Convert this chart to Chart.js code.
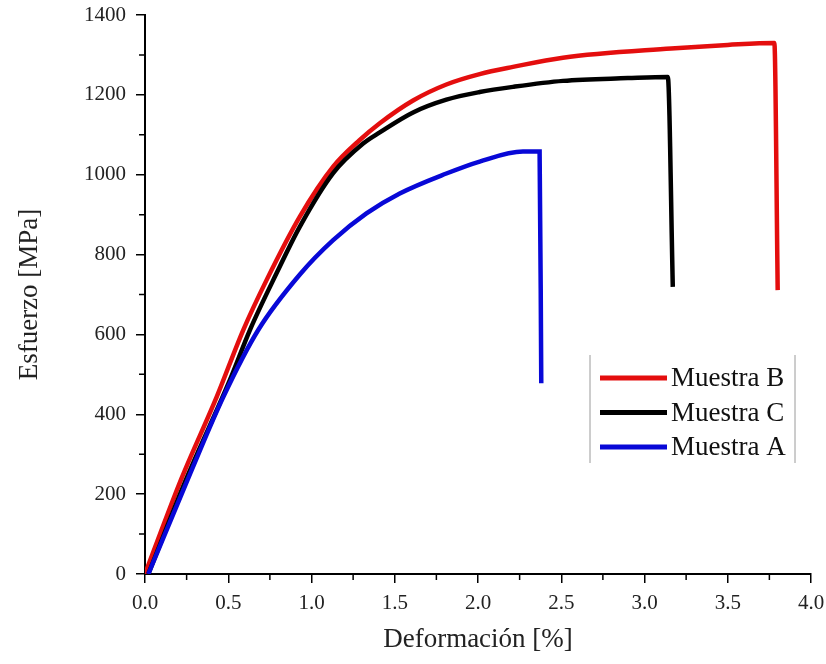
<!DOCTYPE html>
<html>
<head>
<meta charset="utf-8">
<script src="https://cdn.jsdelivr.net/npm/chart.js@4.4.1/dist/chart.umd.min.js"></script>
<style>
  body { margin: 0; background: #fff; }
  #wrap { width: 826px; height: 664px; }
</style>
</head>
<body>
<div id="wrap"><canvas id="chart" width="826" height="664"></canvas></div>
<script>
// strain [%] / stress [MPa]
var strainB = [0, 0.22, 0.43, 0.59, 0.73, 0.93, 1.13, 1.29, 1.41, 1.61, 1.81, 2.01, 2.21, 2.51, 3.16, 3.5, 3.78, 3.80];
var stressB = [0, 240, 443, 611, 736, 895, 1020, 1087, 1129, 1186, 1226, 1252, 1270, 1293, 1316, 1325, 1330, 711];

var strainC = [0.02, 0.25, 0.51, 0.63, 0.79, 0.93, 1.13, 1.31, 1.41, 1.61, 1.81, 2.01, 2.21, 2.51, 2.9, 3.14, 3.17];
var stressC = [0, 240, 486, 611, 753, 870, 1004, 1078, 1106, 1156, 1188, 1207, 1220, 1235, 1242, 1245, 719];

var strainA = [0.02, 0.27, 0.47, 0.68, 0.93, 1.13, 1.33, 1.53, 1.81, 2.01, 2.27, 2.37, 2.38];
var stressA = [0, 250, 443, 611, 750, 836, 903, 953, 1003, 1033, 1058, 1058, 478];

var seriesNames = ['Muestra B', 'Muestra C', 'Muestra A'];
var seriesColors = ['rgb(228,14,14)', '#000000', 'rgb(8,8,215)'];

var xTicks = [0, 0.5, 1.0, 1.5, 2.0, 2.5, 3.0, 3.5, 4.0];
var yTicks = [0, 200, 400, 600, 800, 1000, 1200, 1400];

function toPoints(xs, ys) {
    return xs.map(function (x, i) { return { x: x, y: ys[i] }; });
}

var serifFont = "'Liberation Serif', 'Times New Roman', serif";

// minor ticks halfway between the labelled ones
var minorTicks = {
    id: 'minorTicks',
    afterDraw: function (chart) {
        var ctx = chart.ctx;
        var xs = chart.scales.x, ys = chart.scales.y;
        ctx.save();
        ctx.strokeStyle = '#000';
        ctx.lineWidth = 1.5;
        ctx.beginPath();
        for (var i = 0; i < xTicks.length - 1; i++) {
            var px = xs.getPixelForValue((xTicks[i] + xTicks[i + 1]) / 2);
            ctx.moveTo(px, ys.bottom);
            ctx.lineTo(px, ys.bottom + 6);
        }
        for (var j = 0; j < yTicks.length - 1; j++) {
            var py = ys.getPixelForValue((yTicks[j] + yTicks[j + 1]) / 2);
            ctx.moveTo(xs.left, py);
            ctx.lineTo(xs.left - 6, py);
        }
        ctx.stroke();
        ctx.restore();
    }
};

// legend box sitting inside the plot, lower right
var boxLegend = {
    id: 'boxLegend',
    afterDraw: function (chart) {
        var ctx = chart.ctx;
        var left = 590, top = 355, right = 795, bottom = 463;
        ctx.save();
        ctx.strokeStyle = '#9a9a9a';
        ctx.lineWidth = 1;
        ctx.beginPath();
        ctx.moveTo(left, top); ctx.lineTo(left, bottom);
        ctx.moveTo(right, top); ctx.lineTo(right, bottom);
        ctx.stroke();
        ctx.font = '27px ' + serifFont;
        ctx.textBaseline = 'middle';
        ctx.fillStyle = '#111';
        chart.data.datasets.forEach(function (ds, i) {
            var y = 378 + i * 34.5;
            ctx.strokeStyle = ds.borderColor;
            ctx.lineWidth = 5;
            ctx.beginPath();
            ctx.moveTo(600, y);
            ctx.lineTo(667, y);
            ctx.stroke();
            ctx.fillText(ds.label, 671, y + 1);
        });
        ctx.restore();
    }
};

new Chart(document.getElementById('chart'), {
    type: 'scatter',
    data: {
        datasets: [
            { label: seriesNames[0], data: toPoints(strainB, stressB), borderColor: seriesColors[0], order: 2 },
            { label: seriesNames[1], data: toPoints(strainC, stressC), borderColor: seriesColors[1], order: 1 },
            { label: seriesNames[2], data: toPoints(strainA, stressA), borderColor: seriesColors[2], order: 0 }
        ]
    },
    options: {
        responsive: false,
        animation: false,
        layout: { padding: { top: 15, right: 15, left: 0, bottom: 0 } },
        datasets: {
            scatter: {
                showLine: true,
                borderWidth: 4.5,
                pointRadius: 0,
                cubicInterpolationMode: 'monotone',
                fill: false
            }
        },
        plugins: {
            legend: { display: false },
            tooltip: { enabled: false }
        },
        scales: {
            x: {
                type: 'linear',
                min: 0,
                max: 4,
                afterFit: function (scale) {
                    scale.height = 90;
                    scale.paddingLeft = 0;
                    scale.paddingRight = 0;
                },
                afterBuildTicks: function (scale) {
                    scale.ticks = xTicks.map(function (v) { return { value: v }; });
                },
                ticks: {
                    color: '#222',
                    padding: 8,
                    font: { family: serifFont, size: 21 },
                    callback: function (v) { return v.toFixed(1); }
                },
                grid: { drawOnChartArea: false, color: '#000', lineWidth: 1.5, tickLength: 9 },
                border: { display: true, color: '#000', width: 2 },
                title: {
                    display: true,
                    text: 'Deformación [%]',
                    color: '#222',
                    font: { family: serifFont, size: 27 },
                    padding: { top: 0, bottom: 8 }
                }
            },
            y: {
                type: 'linear',
                min: 0,
                max: 1400,
                afterFit: function (scale) {
                    scale.width = 145;
                    scale.paddingTop = 0;
                    scale.paddingBottom = 0;
                },
                afterBuildTicks: function (scale) {
                    scale.ticks = yTicks.map(function (v) { return { value: v }; });
                },
                ticks: {
                    color: '#222',
                    padding: 10,
                    font: { family: serifFont, size: 21 },
                    callback: function (v) { return String(v); }
                },
                grid: { drawOnChartArea: false, color: '#000', lineWidth: 1.5, tickLength: 9 },
                border: { display: true, color: '#000', width: 2 },
                title: {
                    display: true,
                    text: 'Esfuerzo [MPa]',
                    color: '#222',
                    font: { family: serifFont, size: 27 },
                    padding: { top: 14, bottom: 0 }
                }
            }
        }
    },
    plugins: [minorTicks, boxLegend]
});
</script>
</body>
</html>
